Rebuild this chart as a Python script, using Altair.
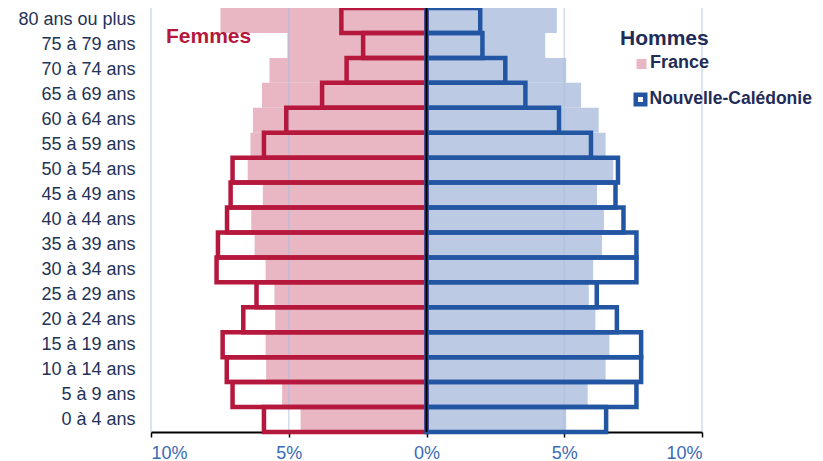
import altair as alt
import pandas as pd

ages = ["80 ans ou plus", "75 à 79 ans", "70 à 74 ans", "65 à 69 ans", "60 à 64 ans",
        "55 à 59 ans", "50 à 54 ans", "45 à 49 ans", "40 à 44 ans", "35 à 39 ans",
        "30 à 34 ans", "25 à 29 ans", "20 à 24 ans", "15 à 19 ans", "10 à 14 ans",
        "5 à 9 ans", "0 à 4 ans"]

france_femmes = [7.48, 5.05, 5.70, 5.97, 6.30, 6.39, 6.49, 5.94, 6.36, 6.24, 5.84, 5.52, 5.49, 5.84, 5.82, 5.24, 4.57]
nc_femmes = [3.09, 2.30, 2.90, 3.79, 5.09, 5.90, 7.04, 7.11, 7.24, 7.57, 7.62, 6.17, 6.65, 7.40, 7.25, 7.04, 5.90]
france_hommes = [4.73, 4.31, 5.07, 5.61, 6.25, 6.50, 6.78, 6.19, 6.44, 6.37, 6.05, 5.89, 6.13, 6.64, 6.50, 5.85, 5.07]
nc_hommes = [1.95, 2.03, 2.86, 3.59, 4.81, 5.97, 6.95, 6.86, 7.15, 7.62, 7.62, 6.18, 6.91, 7.79, 7.79, 7.62, 6.52]

x_ticks = [-10, -5, 0, 5, 10]
grid_values = [-10, -5, 5, 10]

rows = []
for zone, fem, hom in [("France", france_femmes, france_hommes),
                       ("Nouvelle-Calédonie", nc_femmes, nc_hommes)]:
    for a, f, h in zip(ages, fem, hom):
        rows.append({"age": a, "zone": zone, "sexe": "Femmes", "lo": -f, "hi": 0.0})
        rows.append({"age": a, "zone": zone, "sexe": "Hommes", "lo": 0.0, "hi": h})
df = pd.DataFrame(rows)

FONT = "Liberation Sans"
PINK, BLUE_L = "#e8b7c3", "#bccbe3"
RED, BLUE = "#b5173d", "#2356a2"
NAVY = "#1f2c57"

xscale = alt.Scale(domain=[-10, 10], nice=False, zero=False)
yscale = alt.Scale(domain=ages, paddingInner=0, paddingOuter=0)

france = alt.Chart(df).transform_filter(alt.datum.zone == "France").mark_bar().encode(
    y=alt.Y("age:N", sort=ages, scale=yscale,
            axis=alt.Axis(title=None, ticks=False, domain=False, labelFontSize=18,
                          labelColor="#243256", labelPadding=16, labelFont=FONT,
                          labelLimit=300)),
    x=alt.X("lo:Q", scale=xscale,
            axis=alt.Axis(title=None, values=x_ticks, grid=False, domainColor="black",
                          domainWidth=2, tickColor="black", tickWidth=1.5, tickSize=5,
                          labelFontSize=18, labelColor="#3a6ab4", labelFont=FONT,
                          labelPadding=7,
                          labelExpr="abs(datum.value) + '%'")),
    x2="hi:Q",
    color=alt.Color("sexe:N", scale=alt.Scale(domain=["Femmes", "Hommes"], range=[PINK, BLUE_L]),
                    legend=None),
)

grid = alt.Chart(pd.DataFrame({"g": grid_values})).mark_rule(
    color="#a9bde0", opacity=0.55, strokeWidth=1.5
).encode(x=alt.X("g:Q", scale=xscale))

nc = alt.Chart(df).transform_filter(alt.datum.zone == "Nouvelle-Calédonie").mark_bar(
    fillOpacity=0, strokeWidth=4.5, strokeJoin="miter"
).encode(
    y=alt.Y("age:N", sort=ages, scale=yscale),
    x=alt.X("lo:Q", scale=xscale),
    x2="hi:Q",
    stroke=alt.Stroke("sexe:N", scale=alt.Scale(domain=["Femmes", "Hommes"], range=[RED, BLUE]),
                      legend=None),
)

center = alt.Chart(pd.DataFrame({"z": [0]})).mark_rule(color="black", strokeWidth=2).encode(
    x=alt.X("z:Q", scale=xscale)
)

one = pd.DataFrame({"k": [0]})
femmes_t = alt.Chart(one).mark_text(text="Femmes", align="left", baseline="middle", fontSize=21,
                                    fontWeight="bold", color=RED, font=FONT).encode(
    x=alt.value(15), y=alt.value(29))
hommes_t = alt.Chart(one).mark_text(text="Hommes", align="left", baseline="middle", fontSize=21,
                                    fontWeight="bold", color=NAVY, font=FONT).encode(
    x=alt.value(469), y=alt.value(31))
fr_sym = alt.Chart(one).mark_square(size=100, color=PINK, opacity=1).encode(
    x=alt.value(490.5), y=alt.value(56))
fr_t = alt.Chart(one).mark_text(text="France", align="left", baseline="middle", fontSize=18,
                                fontWeight="bold", color=NAVY, font=FONT).encode(
    x=alt.value(499), y=alt.value(55))
nc_sym = alt.Chart(one).mark_square(size=90, fill="white", stroke=BLUE, strokeWidth=4.5,
                                    opacity=1, filled=True).encode(
    x=alt.value(489.5), y=alt.value(91.5))
nc_t = alt.Chart(one).mark_text(text="Nouvelle-Calédonie", align="left", baseline="middle",
                                fontSize=17.5, fontWeight="bold", color=NAVY, font=FONT).encode(
    x=alt.value(498.5), y=alt.value(91))

chart = alt.layer(france, grid, nc, center, femmes_t, hommes_t, fr_sym, fr_t, nc_sym, nc_t).properties(
    width=551, height=424,
    autosize=alt.AutoSizeParams(type="none"),
    padding={"left": 143, "top": 0, "right": 113, "bottom": 29},
).configure_view(stroke=None)

chart.save("out.html", embed_options={"renderer": "svg", "actions": False})
